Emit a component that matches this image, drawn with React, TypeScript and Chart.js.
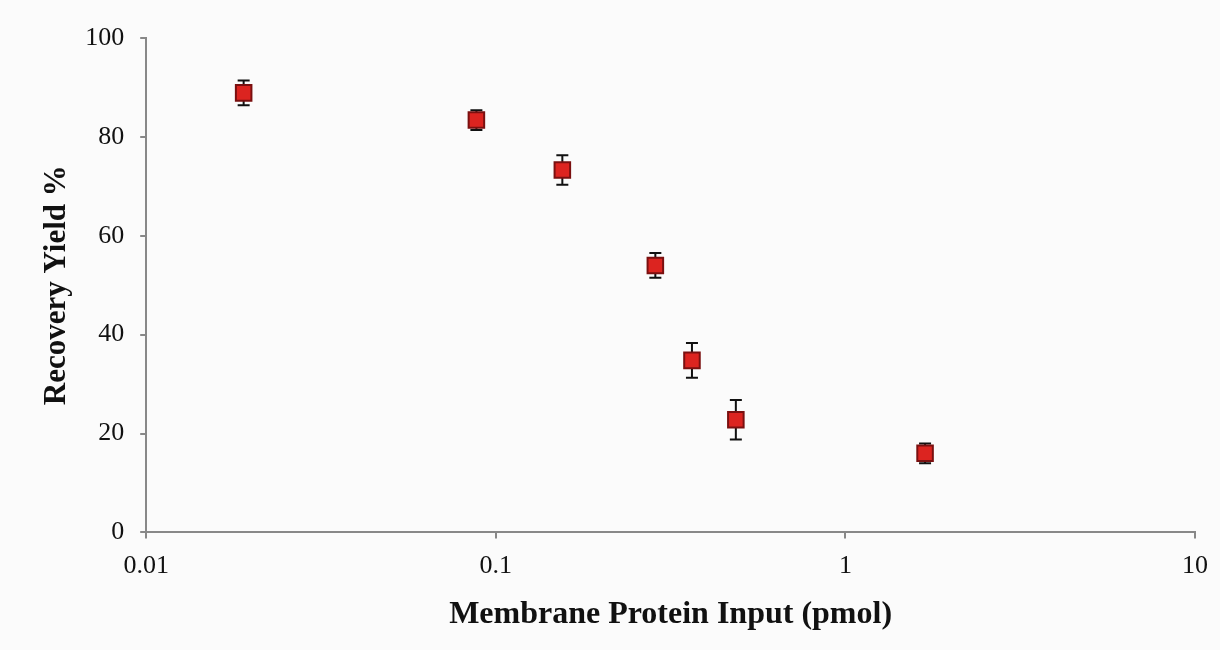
import React, { useEffect, useRef } from "react";
import { Chart, registerables } from "chart.js";

Chart.register(...registerables);

const inputPmol = [0.019, 0.088, 0.155, 0.286, 0.364, 0.486, 1.69];
const recoveryYield = [88.9, 83.4, 73.3, 54.0, 34.8, 22.8, 16.0];
const yieldError = [2.5, 2.0, 3.0, 2.5, 3.5, 4.0, 2.0];
const xTickValues = [0.01, 0.1, 1, 10];
const yTickValues = [0, 20, 40, 60, 80, 100];

const errorBarPlugin = {
  id: "errorBars",
  beforeDatasetsDraw(chart: any) {
    const ctx = chart.ctx;
    const meta = chart.getDatasetMeta(0);
    const yScale = chart.scales.y;
    ctx.save();
    ctx.strokeStyle = "#111111";
    ctx.lineWidth = 2;
    meta.data.forEach((pt: any, i: number) => {
      const v = recoveryYield[i];
      const e = yieldError[i];
      const top = yScale.getPixelForValue(v + e);
      const bot = yScale.getPixelForValue(v - e);
      const x = pt.x;
      ctx.beginPath();
      ctx.moveTo(x, top);
      ctx.lineTo(x, bot);
      ctx.moveTo(x - 6, top);
      ctx.lineTo(x + 6, top);
      ctx.moveTo(x - 6, bot);
      ctx.lineTo(x + 6, bot);
      ctx.stroke();
    });
    ctx.restore();
  },
};

const bgPlugin = {
  id: "bg",
  beforeDraw(chart: any) {
    const ctx = chart.ctx;
    ctx.save();
    ctx.fillStyle = "#fbfbfb";
    ctx.fillRect(0, 0, chart.width, chart.height);
    ctx.restore();
  },
};

export default function App() {
  const ref = useRef<HTMLCanvasElement>(null);
  useEffect(() => {
    if (!ref.current) return;
    const chart = new Chart(ref.current, {
      type: "scatter",
      data: {
        datasets: [
          {
            data: inputPmol.map((x, i) => ({ x, y: recoveryYield[i] })),
            backgroundColor: "#dc2420",
            borderColor: "#7a1010",
            borderWidth: 2,
            pointStyle: "rect",
            pointRadius: 11,
          },
        ],
      },
      options: {
        animation: false,
        responsive: false,
        maintainAspectRatio: false,
        layout: { padding: { top: 38, right: 16, left: 20, bottom: 14 } },
        plugins: { legend: { display: false }, tooltip: { enabled: false } },
        scales: {
          x: {
            type: "logarithmic",
            min: 0.01,
            max: 10,
            afterBuildTicks: (axis: any) => {
              axis.ticks = xTickValues.map((v) => ({ value: v }));
            },
            ticks: {
              color: "#111",
              font: { family: "Liberation Serif", size: 26 },
              padding: 12,
              maxRotation: 0,
              autoSkip: false,
              callback: (v: any) => String(v),
            },
            grid: { drawOnChartArea: false, color: "#888", tickLength: 6, lineWidth: 2 },
            border: { color: "#888", width: 2 },
            title: {
              display: true,
              text: "Membrane Protein Input (pmol)",
              color: "#111",
              font: { family: "Liberation Serif", size: 32, weight: "bold" },
              padding: { top: 2, bottom: 2 },
            },
          },
          y: {
            min: 0,
            max: 100,
            afterBuildTicks: (axis: any) => {
              axis.ticks = yTickValues.map((v) => ({ value: v }));
            },
            ticks: {
              color: "#111",
              font: { family: "Liberation Serif", size: 26 },
              padding: 16,
            },
            grid: { drawOnChartArea: false, color: "#888", tickLength: 6, lineWidth: 2 },
            border: { color: "#888", width: 2 },
            title: {
              display: true,
              text: "Recovery Yield %",
              color: "#111",
              font: { family: "Liberation Serif", size: 31, weight: "bold" },
              padding: { top: 18, bottom: -6 },
            },
          },
        },
      },
      plugins: [bgPlugin, errorBarPlugin],
    });
    return () => chart.destroy();
  }, []);
  return (
    <div style={{ position: "fixed", left: 0, top: 0, width: 1220, height: 650, background: "#fff" }}>
      <canvas ref={ref} width={1220} height={650} style={{ width: 1220, height: 650 }} />
    </div>
  );
}
